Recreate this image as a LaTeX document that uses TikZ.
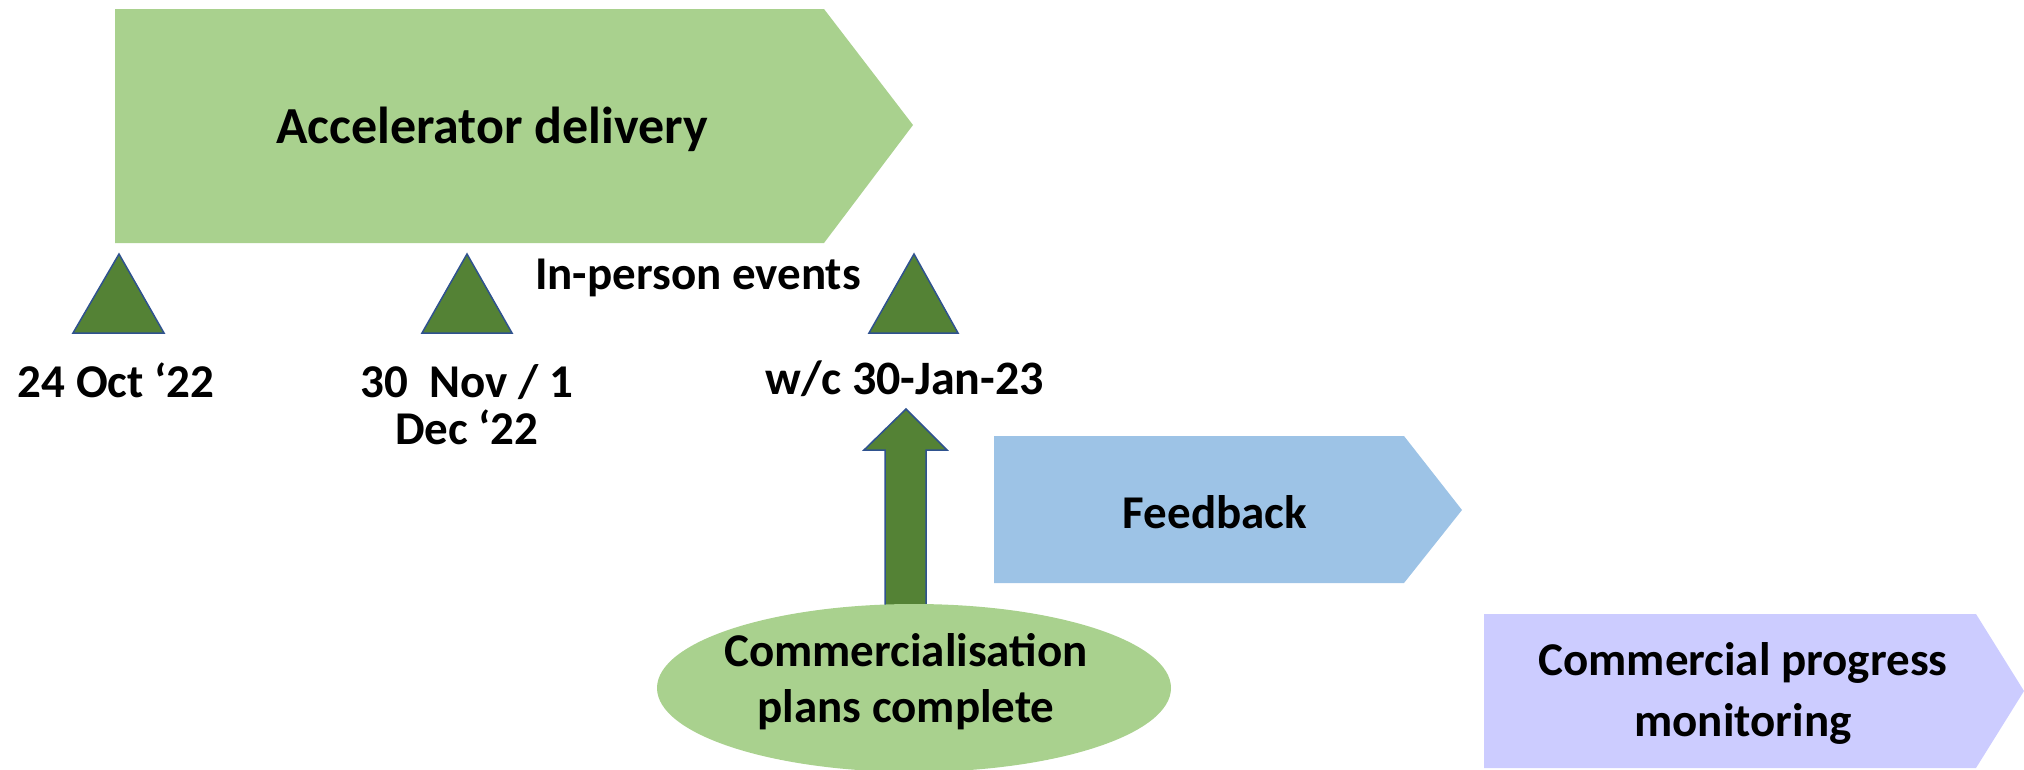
\documentclass[tikz,border=0pt]{standalone}
\usepackage{fontspec}
\setmainfont{Carlito}
\usetikzlibrary{shapes.geometric}
\definecolor{accgreen}{HTML}{A9D18E}
\definecolor{darkgreen}{HTML}{548235}
\definecolor{edgeblue}{HTML}{2F528F}
\definecolor{fbblue}{HTML}{9DC3E6}
\definecolor{lav}{HTML}{CCCCFF}
\tikzset{
  lbl/.style={font=\bfseries\fontsize{47}{56}\selectfont, text=black, align=center, inner sep=0pt},
  bigl/.style={font=\bfseries\fontsize{52}{62}\selectfont, text=black, align=center, inner sep=0pt},
  mile/.style={fill=darkgreen, draw=edgeblue, line width=1.5pt, line join=miter},
}
\begin{document}
\begin{tikzpicture}[x=1pt,y=-1pt]
\useasboundingbox (0,0) rectangle (2024,769);
\clip (0,0) rectangle (2024,769);
% chevrons
\fill[accgreen] (115,9) -- (824,9) -- (913,125) -- (824,243) -- (115,243) -- cycle;
\fill[fbblue] (994,436) -- (1404,436) -- (1462,510) -- (1404,583) -- (994,583) -- cycle;
\fill[lav] (1484,614) -- (1976,614) -- (2024,691) -- (1976,768) -- (1484,768) -- cycle;
\node[bigl] (acc) at (492,129) {Accelerator delivery};
\node[lbl] (fb) at (1215,512) {Feedback};
\node[lbl, font=\bfseries\fontsize{47}{61}\selectfont] (cpm) at (1743,693) {Commercial progress\\monitoring};
% milestones
\draw[mile] (119,254) -- (164,333) -- (73,333) -- cycle;
\draw[mile] (467,254) -- (512,333) -- (422,333) -- cycle;
\draw[mile] (914,254) -- (958,333) -- (869,333) -- cycle;
\node[lbl] (ipe) at (698,278) {In-person events};
\node[lbl] (d1) at (116,380) {24 Oct ‘22};
\node[lbl, font=\bfseries\fontsize{47}{47}\selectfont] (d2) at (467,405) {30~~Nov / 1\\Dec ‘22};
\node[lbl, font=\bfseries\fontsize{48}{56}\selectfont] (d3) at (905,379) {w/c 30-Jan-23};
% block arrow (drawn under the ellipse)
\draw[mile] (885,620) -- (885,450) -- (864,450) -- (906,409) -- (947,450) -- (926,450) -- (926,620);
% ellipse
\node[ellipse, fill=accgreen, minimum width=514, minimum height=168, inner sep=0pt] (ell) at (914,688) {};
\node[lbl, font=\bfseries\fontsize{47}{56}\selectfont] (cpc) at (906,682) {Commercialisation\\plans complete};
\end{tikzpicture}
\end{document}
